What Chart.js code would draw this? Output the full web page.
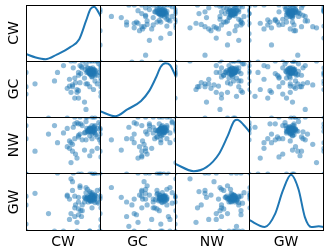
<!DOCTYPE html>
<html><head><meta charset="utf-8">
<script src="https://cdn.jsdelivr.net/npm/chart.js@4"></script>
<style>
html,body{margin:0;padding:0;background:#fff;}
#wrap{position:relative;width:330px;height:250px;overflow:hidden;font-family:"DejaVu Sans",sans-serif;}
.cell{position:absolute;}
.cell canvas{display:block;}
.lab{position:absolute;font-size:14px;color:#000;white-space:nowrap;line-height:1;}
</style></head><body><div id="wrap"></div>
<script>
const variables = ['CW','GC','NW','GW'];

// one value per record, same record order in all four arrays
const CW = [.87,.89,.85,.91,.86,.88,.84,.90,.87,.83,.92,.85,.89,.86,.88,.82,.91,.87,.84,.89,.93,.81,.86,.90,.85,.88,.79,.92,.87,.83,
            .78,.95,.75,.92,.70,.97,.82,.88,.80,.73,
            .60,.55,.65,.62,.66,.68,.58,.58,.72,.62,.70,.78,.70,.85,.12,.80,
            1,1,1,1,1,1,1,1, 0,0,0, .88,.75,.92,.60,.85, .55,.88,.30, .82,.65,.90,.72, .88,.70,.92,.74, .42,.63,.95, .38,.50,.68,.98,
            1,1,.95,.65,.80,.88,.90,.85,0,.92,.85];
const GC = [.81,.83,.79,.85,.77,.82,.84,.80,.86,.81,.78,.83,.75,.87,.79,.82,.81,.84,.78,.88,.83,.80,.76,.85,.81,.73,.85,.82,.79,.87,
            .70,.75,.88,.65,.80,.95,.60,.72,.95,.78,
            .45,.52,.35,.55,.62,.50,.56,.68,.62,.58,.75,.28,.48,.55,.60,.15,
            .85,.45,.92,.65,.78,.38,1,.55, 0,.42,.80, 1,1,1,1,1, 0,0,0, .88,.70,.50,.92, .84,.35,.75,.90, .80,.88,.60, .65,.92,.45,.80,
            .70,.88,1,1,.60,.82,.78,.82,.55,0,.78];
const NW = [.77,.75,.79,.73,.76,.78,.74,.80,.77,.75,.72,.81,.76,.79,.71,.77,.83,.74,.78,.76,.69,.80,.75,.82,.67,.77,.73,.85,.79,.76,
            .72,.65,.85,.78,.68,.90,.74,.62,.92,.88,
            .55,.48,.62,.40,.35,.28,.58,.45,.70,.52,.65,.42,.88,.32,.40,.60,
            .80,.70,.55,.88,1,.82,.75,.30, 0,.62,0, .85,.60,1,.20,.78, .80,.40,.70, 1,1,1,1, 0,0,0,0, .55,.82,.45, .85,.72,.90,.60,
            .82,.62,.80,.88,1,1,.75,.80,.85,.78,0];
const GW = [.55,.57,.53,.59,.52,.56,.54,.58,.61,.50,.55,.57,.63,.53,.56,.59,.54,.51,.57,.55,.60,.56,.65,.52,.58,.54,.57,.49,.62,.55,
            .50,.70,.45,.62,.58,.48,.72,.40,.66,.35,
            .30,.62,.25,.70,.45,.15,.55,.20,.78,.85,.38,.58,.28,.68,.65,.75,
            .60,.55,.20,1,.62,.08,.58,.40, 0,.45,.12, .58,.35,.62,.90,0, .60,1,.30, .58,.40,1,.75, .60,.50,1,.25, 1,1,1, 0,0,0,0,
            .55,.72,.50,.60,.55,.66,1,0,.60,.56,.58];

// diagonal density curves (x in data units, y relative density)
const kdeX = {
  CW: [0,.13,.26,.41,.59,.71,.80,.86,.91,.95,1],
  GC: [0,.20,.36,.54,.65,.74,.80,.86,.92,1],
  NW: [0,.25,.42,.59,.70,.79,.83,.91,1],
  GW: [0,.21,.35,.45,.56,.66,.745,.83,.93,1]
};
const kdeY = {
  CW: [.14,.08,.05,.13,.26,.40,.72,.93,.97,.91,.79],
  GC: [.12,.03,.15,.30,.48,.72,.90,.96,.93,.72],
  NW: [.18,.05,.12,.36,.66,.93,.95,.87,.73],
  GW: [.19,.07,.30,.69,.97,.72,.24,.07,.08,.07]
};

const series = {CW, GC, NW, GW};
const colEdges = [26,100,175,249,323];
const rowEdges = [5,61,117,173,230];
const wrap = document.getElementById('wrap');

const borderPlugin = {
  id:'frame',
  afterDraw(chart){
    const {ctx, chartArea:a} = chart;
    ctx.save();
    ctx.strokeStyle = '#000';
    ctx.lineWidth = 1;
    ctx.strokeRect(a.left+0.5, a.top+0.5, a.right-a.left-1, a.bottom-a.top-1);
    ctx.restore();
  }
};

function baseOptions(ymin, ymax){
  return {
    animation:false, responsive:true, maintainAspectRatio:false, events:[],
    layout:{padding:0, autoPadding:false},
    plugins:{legend:{display:false}, tooltip:{enabled:false}},
    scales:{
      x:{type:'linear', min:0, max:1, display:false},
      y:{type:'linear', min:ymin, max:ymax, display:false}
    }
  };
}

variables.forEach((rv, r) => {
  variables.forEach((cv, c) => {
    const div = document.createElement('div');
    div.className = 'cell';
    div.style.left = colEdges[c] + 'px';
    div.style.top = rowEdges[r] + 'px';
    div.style.width = (colEdges[c+1]-colEdges[c]+1) + 'px';
    div.style.height = (rowEdges[r+1]-rowEdges[r]+1) + 'px';
    const cv2 = document.createElement('canvas');
    div.appendChild(cv2);
    wrap.appendChild(div);
    let cfg;
    if (r === c) {
      const pts = kdeX[rv].map((x,i)=>({x, y:kdeY[rv][i]}));
      cfg = {type:'line', data:{datasets:[{data:pts, borderColor:'#1f77b4', borderWidth:2,
              pointRadius:0, fill:false, cubicInterpolationMode:'monotone', clip:0}]},
             options:baseOptions(0,1), plugins:[borderPlugin]};
    } else {
      const xs = series[cv], ys = series[rv];
      const pts = xs.map((x,i)=>({x, y:ys[i]}));
      cfg = {type:'scatter', data:{datasets:[{data:pts, backgroundColor:'rgba(31,119,180,0.5)',
              borderWidth:0, pointRadius:2.6, pointHoverRadius:2.6, clip:0}]},
             options:baseOptions(0,1), plugins:[borderPlugin]};
    }
    new Chart(cv2, cfg);
  });
});

variables.forEach((v, i) => {
  const cl = document.createElement('div');
  cl.className = 'lab';
  cl.textContent = v;
  cl.style.left = ((colEdges[i]+colEdges[i+1])/2) + 'px';
  cl.style.top = '241px';
  cl.style.transform = 'translate(-50%,-50%)';
  wrap.appendChild(cl);
  const rl = document.createElement('div');
  rl.className = 'lab';
  rl.textContent = v;
  rl.style.left = '13px';
  rl.style.top = ((rowEdges[i]+rowEdges[i+1])/2) + 'px';
  rl.style.transform = 'translate(-50%,-50%) rotate(-90deg)';
  wrap.appendChild(rl);
});
</script></body></html>
